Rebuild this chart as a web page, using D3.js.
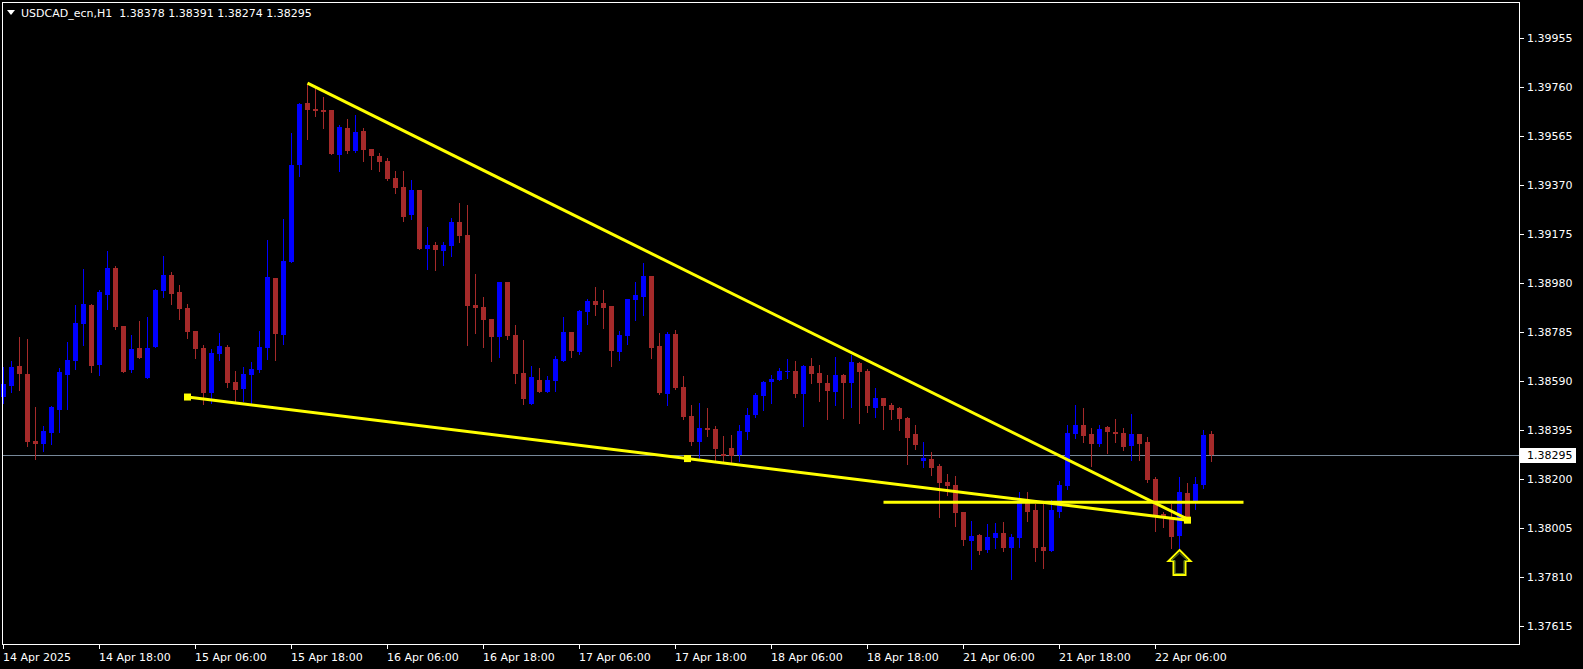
<!DOCTYPE html>
<html><head><meta charset="utf-8">
<script src="https://cdn.jsdelivr.net/npm/d3@7/dist/d3.min.js"></script>
<style>html,body{margin:0;padding:0;background:#000;overflow:hidden}svg{display:block}</style>
</head><body><svg id="c" width="1583" height="669"></svg>
<script>
const symbolTitle = "USDCAD_ecn,H1";
const lastOHLC = ["1.38378","1.38391","1.38274","1.38295"];
const opens = [1.38528,1.38572,1.38650,1.38619,1.38352,1.38341,1.38384,1.38476,1.38615,1.38670,1.38819,1.38893,1.38654,1.38933,1.39040,1.38810,1.38636,1.38722,1.38604,1.38726,1.38949,1.39013,1.38945,1.38881,1.38790,1.38722,1.38543,1.38698,1.38726,1.38587,1.38559,1.38615,1.38635,1.38722,1.39001,1.38774,1.39064,1.39450,1.39697,1.39673,1.39669,1.39669,1.39490,1.39598,1.39506,1.39586,1.39514,1.39486,1.39466,1.39399,1.39363,1.39251,1.39351,1.39116,1.39132,1.39108,1.39128,1.39224,1.39172,1.38893,1.38885,1.38837,1.38766,1.38985,1.38774,1.38623,1.38499,1.38595,1.38547,1.38591,1.38670,1.38786,1.38706,1.38865,1.38909,1.38901,1.38889,1.38706,1.38770,1.38913,1.38925,1.39009,1.38730,1.38539,1.38778,1.38567,1.38451,1.38348,1.38404,1.38400,1.38300,1.38324,1.38296,1.38388,1.38455,1.38531,1.38587,1.38595,1.38627,1.38631,1.38539,1.38650,1.38623,1.38583,1.38547,1.38615,1.38583,1.38662,1.38631,1.38483,1.38523,1.38495,1.38483,1.38443,1.38380,1.38272,1.38280,1.38252,1.38189,1.38177,1.38069,1.37954,1.37978,1.37918,1.37966,1.37986,1.37926,1.37966,1.38105,1.38077,1.37930,1.37914,1.38069,1.38173,1.38380,1.38416,1.38380,1.38340,1.38408,1.38388,1.38384,1.38332,1.38380,1.38348,1.38201,1.38061,1.38045,1.37974,1.38145,1.38109,1.38177,1.38378];
const highs = [1.38648,1.38670,1.38766,1.38758,1.38487,1.38413,1.38492,1.38642,1.38746,1.38893,1.39036,1.38897,1.38953,1.39108,1.39048,1.38810,1.38774,1.38830,1.38845,1.38957,1.39088,1.39025,1.38973,1.38897,1.38790,1.38734,1.38718,1.38782,1.38734,1.38631,1.38646,1.38666,1.38790,1.39152,1.39001,1.39236,1.39578,1.39697,1.39773,1.39757,1.39721,1.39669,1.39610,1.39634,1.39649,1.39598,1.39514,1.39498,1.39478,1.39427,1.39427,1.39391,1.39351,1.39204,1.39144,1.39144,1.39239,1.39299,1.39291,1.39017,1.38925,1.38837,1.38985,1.38985,1.38814,1.38754,1.38650,1.38642,1.38611,1.38690,1.38845,1.38786,1.38873,1.38917,1.38965,1.38953,1.38889,1.38790,1.38917,1.38985,1.39060,1.39009,1.38782,1.38786,1.38794,1.38611,1.38495,1.38503,1.38483,1.38412,1.38372,1.38376,1.38416,1.38483,1.38543,1.38591,1.38615,1.38642,1.38678,1.38670,1.38654,1.38682,1.38654,1.38615,1.38686,1.38619,1.38694,1.38666,1.38639,1.38563,1.38523,1.38503,1.38487,1.38447,1.38416,1.38348,1.38308,1.38260,1.38221,1.38213,1.38069,1.38034,1.37982,1.38022,1.38026,1.38030,1.37982,1.38149,1.38149,1.38101,1.38101,1.38117,1.38193,1.38416,1.38495,1.38483,1.38404,1.38416,1.38412,1.38440,1.38404,1.38459,1.38380,1.38368,1.38209,1.38069,1.38101,1.38209,1.38185,1.38209,1.38396,1.38391];
const lows = [1.38502,1.38548,1.38556,1.38333,1.38281,1.38312,1.38341,1.38388,1.38479,1.38638,1.38734,1.38626,1.38615,1.38877,1.38798,1.38626,1.38628,1.38683,1.38604,1.38726,1.38925,1.38897,1.38837,1.38762,1.38682,1.38499,1.38503,1.38674,1.38567,1.38503,1.38511,1.38503,1.38626,1.38678,1.38674,1.38738,1.39064,1.39407,1.39554,1.39645,1.39598,1.39494,1.39427,1.39498,1.39502,1.39466,1.39435,1.39427,1.39391,1.39339,1.39228,1.39236,1.39116,1.39036,1.39033,1.39052,1.39088,1.39144,1.38734,1.38782,1.38726,1.38670,1.38686,1.38758,1.38583,1.38499,1.38499,1.38547,1.38547,1.38551,1.38670,1.38686,1.38698,1.38818,1.38853,1.38802,1.38650,1.38674,1.38738,1.38834,1.38853,1.38682,1.38539,1.38495,1.38559,1.38440,1.38336,1.38280,1.38372,1.38276,1.38268,1.38264,1.38272,1.38360,1.38447,1.38475,1.38503,1.38595,1.38603,1.38527,1.38412,1.38583,1.38511,1.38440,1.38495,1.38443,1.38487,1.38424,1.38467,1.38447,1.38400,1.38440,1.38396,1.38260,1.38320,1.38248,1.38217,1.38049,1.38137,1.38014,1.37938,1.37842,1.37902,1.37910,1.37926,1.37914,1.37803,1.37930,1.38034,1.37874,1.37846,1.37914,1.38049,1.38161,1.38364,1.38348,1.38252,1.38332,1.38304,1.38348,1.38316,1.38276,1.38276,1.38189,1.37994,1.38010,1.37926,1.37926,1.38034,1.38081,1.38165,1.38274];
const closes = [1.38579,1.38646,1.38620,1.38349,1.38341,1.38392,1.38487,1.38626,1.38674,1.38822,1.38897,1.38650,1.38946,1.39040,1.38806,1.38626,1.38718,1.38683,1.38722,1.38953,1.39013,1.38937,1.38877,1.38786,1.38718,1.38543,1.38702,1.38730,1.38583,1.38555,1.38619,1.38639,1.38726,1.39005,1.38778,1.39068,1.39450,1.39693,1.39669,1.39665,1.39661,1.39494,1.39602,1.39506,1.39582,1.39510,1.39486,1.39462,1.39395,1.39359,1.39243,1.39351,1.39116,1.39132,1.39112,1.39132,1.39224,1.39168,1.38889,1.38881,1.38834,1.38766,1.38985,1.38770,1.38619,1.38519,1.38607,1.38547,1.38595,1.38678,1.38786,1.38710,1.38869,1.38909,1.38893,1.38881,1.38710,1.38774,1.38917,1.38933,1.39009,1.38722,1.38543,1.38778,1.38563,1.38447,1.38348,1.38404,1.38396,1.38320,1.38292,1.38292,1.38392,1.38455,1.38535,1.38587,1.38599,1.38631,1.38631,1.38539,1.38650,1.38619,1.38583,1.38551,1.38615,1.38583,1.38666,1.38626,1.38491,1.38523,1.38491,1.38475,1.38440,1.38364,1.38336,1.38284,1.38244,1.38185,1.38173,1.38065,1.37958,1.37974,1.37914,1.37970,1.37986,1.37926,1.37970,1.38117,1.38069,1.37926,1.37914,1.38077,1.38177,1.38384,1.38416,1.38372,1.38340,1.38400,1.38388,1.38380,1.38328,1.38380,1.38340,1.38197,1.38057,1.38045,1.37970,1.38149,1.38045,1.38181,1.38376,1.38295];
const timeTickBars = [0,12,24,36,48,60,72,84,96,108,120,132,144];
const timeTickLabels = ["14 Apr 2025","14 Apr 18:00","15 Apr 06:00","15 Apr 18:00","16 Apr 06:00","16 Apr 18:00","17 Apr 06:00","17 Apr 18:00","18 Apr 06:00","18 Apr 18:00","21 Apr 06:00","21 Apr 18:00","22 Apr 06:00"];
const priceTicks = [1.37615,1.37810,1.38005,1.38200,1.38395,1.38590,1.38785,1.38980,1.39175,1.39370,1.39565,1.39760,1.39955];
const currentPrice = 1.38295;
// drawn objects (bar index, price)
const upperTrend = [[38,1.39776],[148,1.38041]];
const lowerTrend = [[23,1.38527],[148,1.38037]];
const hLine = [[110,1.38108],[155,1.38108]];
const arrowAt = [147,1.37926];

const svg = d3.select("#c");
const W = 1583, H = 669;
const L = 2, T = 2, R = 1519, B = 644;
svg.append("rect").attr("width",W).attr("height",H).attr("fill","#000");

const x = d3.scaleLinear().domain([0,151]).range([3.5, 3.5+8*151]);
const y = d3.scaleLinear().domain([1.37615,1.39955]).range([626.2,38.2]);

const plot = svg.append("g");
// current price line
plot.append("line").attr("x1",L).attr("x2",R).attr("y1",Math.round(y(currentPrice))+0.5).attr("y2",Math.round(y(currentPrice))+0.5)
  .attr("stroke","#778899").attr("stroke-width",1);

const bull = "#0000ff", bear = "#a52a2a";
const idx = d3.range(opens.length);
const cg = plot.append("g");
cg.selectAll("line.w").data(idx).join("line").attr("class","w")
  .attr("x1",i=>Math.floor(x(i))+0.5).attr("x2",i=>Math.floor(x(i))+0.5)
  .attr("y1",i=>Math.round(y(highs[i]))).attr("y2",i=>Math.round(y(lows[i]))+1)
  .attr("stroke",i=>closes[i]>=opens[i]?bull:bear).attr("stroke-width",1);
cg.selectAll("rect.b").data(idx).join("rect").attr("class","b")
  .attr("x",i=>Math.floor(x(i))-2).attr("width",5)
  .attr("y",i=>Math.round(y(Math.max(opens[i],closes[i]))))
  .attr("height",i=>Math.max(1,Math.round(y(Math.min(opens[i],closes[i])))-Math.round(y(Math.max(opens[i],closes[i])))))
  .attr("fill",i=>closes[i]>=opens[i]?bull:bear);

// objects
const yellow = "#ffff00";
function seg(d){
  plot.append("line").attr("x1",x(d[0][0])).attr("y1",y(d[0][1])).attr("x2",x(d[1][0])).attr("y2",y(d[1][1]))
    .attr("stroke",yellow).attr("stroke-width",3);
}
seg(upperTrend); seg(lowerTrend); seg(hLine);
const mid = [(lowerTrend[0][0]+lowerTrend[1][0])/2,(lowerTrend[0][1]+lowerTrend[1][1])/2];
[lowerTrend[0],mid,lowerTrend[1]].forEach(p=>{
  plot.append("rect").attr("x",x(p[0])-3.5).attr("y",y(p[1])-3.5).attr("width",7).attr("height",7).attr("fill",yellow);
});
// arrow
const ax = x(arrowAt[0]), ay = y(arrowAt[1])+2;
const arrowPts = [[0,0],[11,11],[6,11],[6,25],[-6,25],[-6,11],[-11,11]];
plot.append("path").attr("d","M"+arrowPts.map(p=>[ax+p[0],ay+p[1]].join(",")).join("L")+"Z")
  .attr("fill","none").attr("stroke",yellow).attr("stroke-width",2).attr("stroke-linejoin","miter");
const inner = [[0,3],[8,10.5],[4.5,10.5],[4.5,23.5],[-4.5,23.5],[-4.5,10.5],[-8,10.5]];
plot.append("path").attr("d","M"+inner.map(p=>[ax+p[0],ay+p[1]].join(",")).join("L")+"Z")
  .attr("fill","none").attr("stroke","#6b8e23").attr("stroke-width",1);

// frame
svg.append("rect").attr("x",L+0.5).attr("y",T+0.5).attr("width",R-L).attr("height",B-T)
  .attr("fill","none").attr("stroke","#fff").attr("stroke-width",1);

// bottom axis
const font = "DejaVu Sans, Verdana, sans-serif";
const xa = svg.append("g");
xa.selectAll("line").data(timeTickBars).join("line")
  .attr("x1",d=>Math.floor(x(d))+0.5).attr("x2",d=>Math.floor(x(d))+0.5).attr("y1",B).attr("y2",B+5)
  .attr("stroke","#fff");
xa.selectAll("text").data(timeTickBars).join("text")
  .attr("x",d=>Math.floor(x(d))).attr("y",661).text((d,i)=>timeTickLabels[i])
  .attr("fill","#fff").attr("font-family",font).attr("font-size","11px");

// right axis
const ya = svg.append("g");
ya.selectAll("line").data(priceTicks).join("line")
  .attr("x1",R).attr("x2",R+5).attr("y1",d=>Math.round(y(d))+0.5).attr("y2",d=>Math.round(y(d))+0.5).attr("stroke","#fff");
ya.selectAll("text").data(priceTicks).join("text")
  .attr("x",R+8).attr("y",d=>y(d)).attr("dy","0.36em").text(d=>d.toFixed(5))
  .attr("fill","#fff").attr("font-family",font).attr("font-size","11px");
// current price label
const cy = y(currentPrice);
svg.append("rect").attr("x",R+1).attr("y",Math.round(cy)-7).attr("width",56).attr("height",15).attr("fill","#fff");
svg.append("text").attr("x",R+8).attr("y",cy).attr("dy","0.36em").text(currentPrice.toFixed(5))
  .attr("fill","#000").attr("font-family",font).attr("font-size","11px");

// header
svg.append("path").attr("d","M7,10L15,10L11,15Z").attr("fill","#fff");
svg.append("text").attr("x",21).attr("y",17).attr("xml:space","preserve")
  .text(symbolTitle+"  "+lastOHLC.join(" "))
  .attr("fill","#fff").attr("font-family",font).attr("font-size","11px");
</script></body></html>
